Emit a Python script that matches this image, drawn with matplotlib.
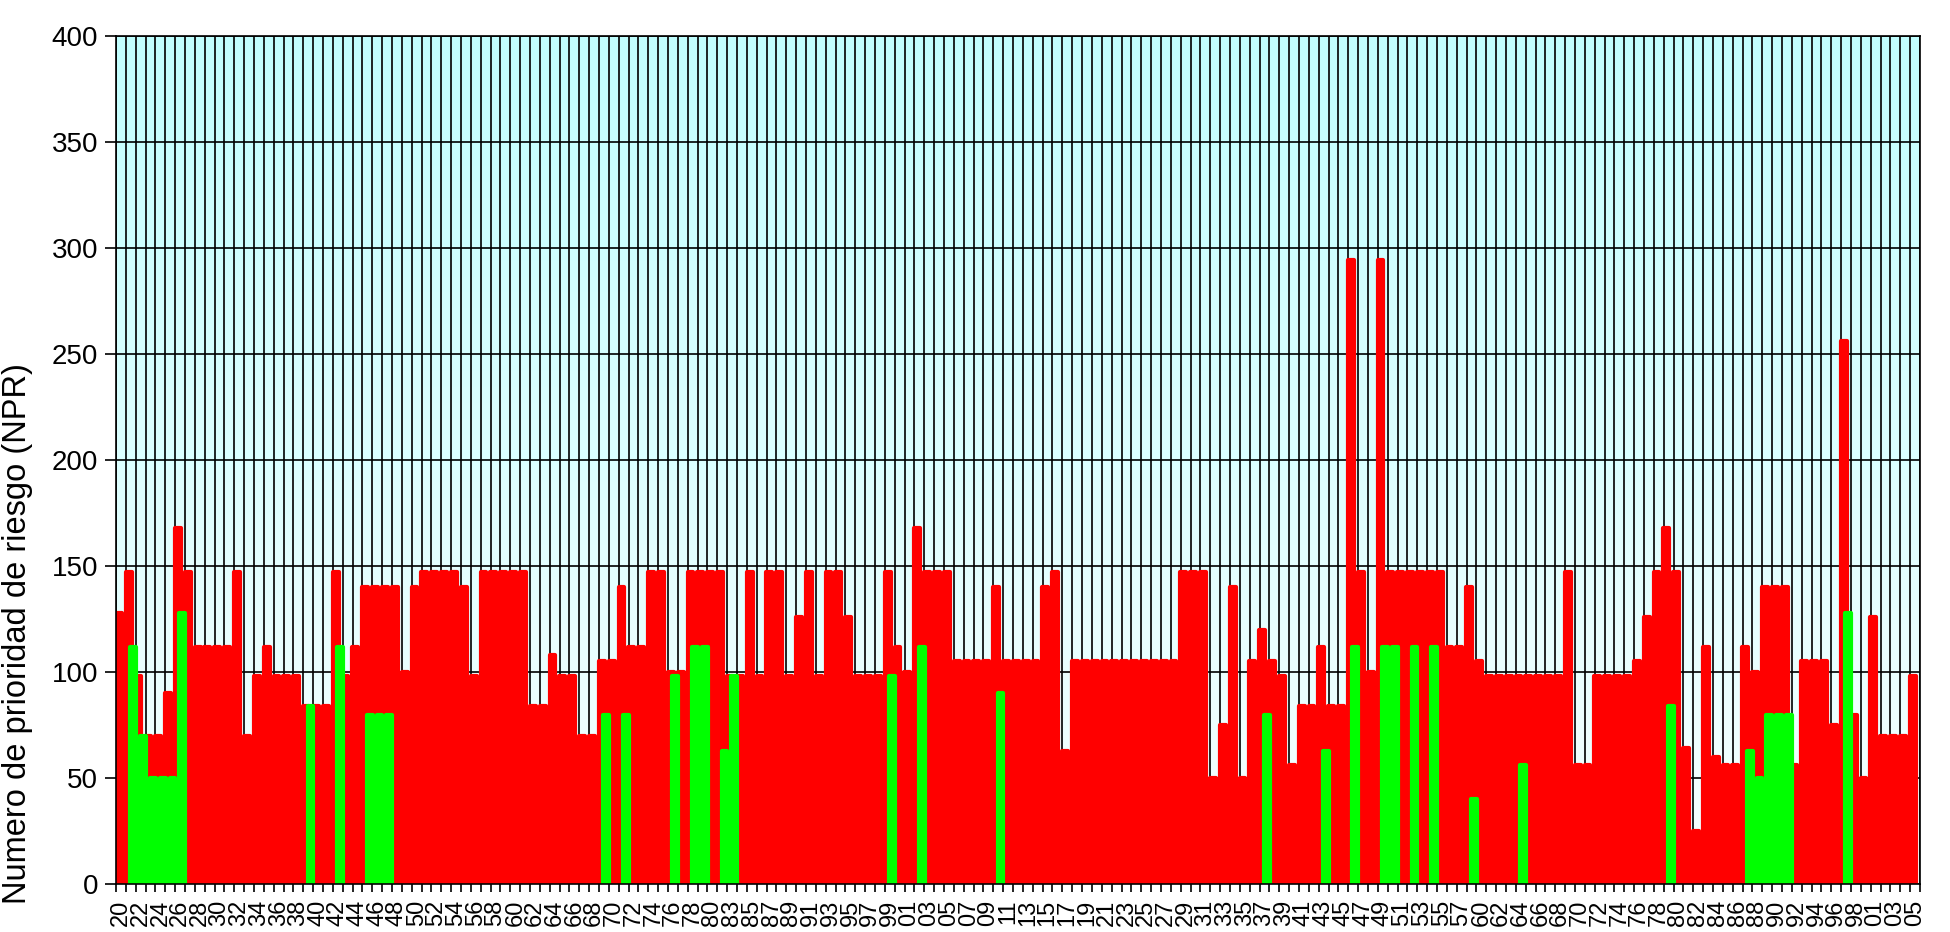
import numpy as np
import matplotlib
matplotlib.use("Agg")
from matplotlib import pyplot as plt

plt.rcParams['font.family'] = ['Liberation Sans', 'DejaVu Sans']

# visible x labels (every second category carries one)
tick_labels = ['20', '22', '24', '26', '28', '30', '32', '34', '36', '38',
               '40', '42', '44', '46', '48', '50', '52', '54', '56', '58',
               '60', '62', '64', '66', '68', '70', '72', '74', '76', '78',
               '80', '83', '85', '87', '89', '91', '93', '95', '97', '99',
               '01', '03', '05', '07', '09', '11', '13', '15', '17', '19',
               '21', '23', '25', '27', '29', '31', '33', '35', '37', '39',
               '41', '43', '45', '47', '49', '51', '53', '55', '57', '60',
               '62', '64', '66', '68', '70', '72', '74', '76', '78', '80',
               '82', '84', '86', '88', '90', '92', '94', '96', '98', '01',
               '03', '05']

# NPR per failure mode (red) and after actions (green, 0 = none)
npr_red = [128, 147, 98, 70, 70, 90, 168, 147, 112, 112,
           112, 112, 147, 70, 98, 112, 98, 98, 98, 84,
           84, 84, 147, 98, 112, 140, 140, 140, 140, 100,
           140, 147, 147, 147, 147, 140, 98, 147, 147, 147,
           147, 147, 84, 84, 108, 98, 98, 70, 70, 105,
           105, 140, 112, 112, 147, 147, 100, 100, 147, 147,
           147, 147, 98, 98, 147, 98, 147, 147, 98, 126,
           147, 98, 147, 147, 126, 98, 98, 98, 147, 112,
           100, 168, 147, 147, 147, 105, 105, 105, 105, 140,
           105, 105, 105, 105, 140, 147, 63, 105, 105, 105,
           105, 105, 105, 105, 105, 105, 105, 105, 147, 147,
           147, 50, 75, 140, 50, 105, 120, 105, 98, 56,
           84, 84, 112, 84, 84, 294, 147, 100, 294, 147,
           147, 147, 147, 147, 147, 112, 112, 140, 105, 98,
           98, 98, 98, 98, 98, 98, 98, 147, 56, 56,
           98, 98, 98, 98, 105, 126, 147, 168, 147, 64,
           25, 112, 60, 56, 56, 112, 100, 140, 140, 140,
           56, 105, 105, 105, 75, 256, 80, 50, 126, 70,
           70, 70, 98]

npr_green = [0, 112, 70, 50, 50, 50, 128, 0, 0, 0,
             0, 0, 0, 0, 0, 0, 0, 0, 0, 84,
             0, 0, 112, 0, 0, 80, 80, 80, 0, 0,
             0, 0, 0, 0, 0, 0, 0, 0, 0, 0,
             0, 0, 0, 0, 0, 0, 0, 0, 0, 80,
             0, 80, 0, 0, 0, 0, 98, 0, 112, 112,
             0, 63, 98, 0, 0, 0, 0, 0, 0, 0,
             0, 0, 0, 0, 0, 0, 0, 0, 98, 0,
             0, 112, 0, 0, 0, 0, 0, 0, 0, 90,
             0, 0, 0, 0, 0, 0, 0, 0, 0, 0,
             0, 0, 0, 0, 0, 0, 0, 0, 0, 0,
             0, 0, 0, 0, 0, 0, 80, 0, 0, 0,
             0, 0, 63, 0, 0, 112, 0, 0, 112, 112,
             0, 112, 0, 112, 0, 0, 0, 40, 0, 0,
             0, 0, 56, 0, 0, 0, 0, 0, 0, 0,
             0, 0, 0, 0, 0, 0, 0, 84, 0, 0,
             0, 0, 0, 0, 0, 63, 50, 80, 80, 80,
             0, 0, 0, 0, 0, 128, 0, 0, 0, 0,
             0, 0, 0]

n = len(npr_red)
x = np.arange(n)

fig = plt.figure(figsize=(19.5, 9.32), dpi=100)
ax = fig.add_axes([0.0595, 0.0512, 0.9251, 0.9107])

# light cyan gradient plot area
grad = np.linspace(0, 1, 256).reshape(-1, 1)
top_c = np.array([0.76, 1.0, 1.0])
bot_c = np.array([0.97, 1.0, 1.0])
img = top_c + (bot_c - top_c) * grad
ax.imshow(img.reshape(256, 1, 3), extent=[-0.5, n - 0.5, 0, 400],
          aspect='auto', zorder=0, interpolation='bilinear')

bw = 0.6
ax.bar(x - 0.225, npr_red, width=bw, color='#ff0000', edgecolor='#ff0000',
       linewidth=3.0, joinstyle='round', zorder=3)
gx = [i for i in x if npr_green[i] > 0]
gv = [npr_green[i] for i in gx]
ax.bar(np.array(gx) + 0.225, gv, width=bw, color='#00ff00',
       edgecolor='#00ff00', linewidth=3.0, joinstyle='round', zorder=4)

ax.set_xlim(-0.5, n - 0.5)
ax.set_ylim(0, 400)
ax.set_yticks(range(0, 401, 50))
ax.tick_params(axis='y', labelsize=20, length=8, width=1.2, pad=5)

# ticks + gridlines at category boundaries, labels on every other category
ax.set_xticks(np.arange(-0.5, n, 1.0))
ax.set_xticklabels([])
ax.set_xticks(x[::2], tick_labels, minor=True)
ax.tick_params(axis='x', which='major', length=6, width=1.2)
ax.tick_params(axis='x', which='minor', length=0, labelsize=17,
               labelrotation=90, pad=11)

ax.grid(True, which='major', color='black', linewidth=1.2, zorder=1)
ax.set_axisbelow(True)
for s in ax.spines.values():
    s.set_linewidth(1.2)
    s.set_zorder(5)

ax.set_ylabel('Numero de prioridad de riesgo (NPR)', fontsize=23.5)
ax.yaxis.set_label_coords(-0.046, 0.295)

fig.savefig('out.png', dpi=100)
